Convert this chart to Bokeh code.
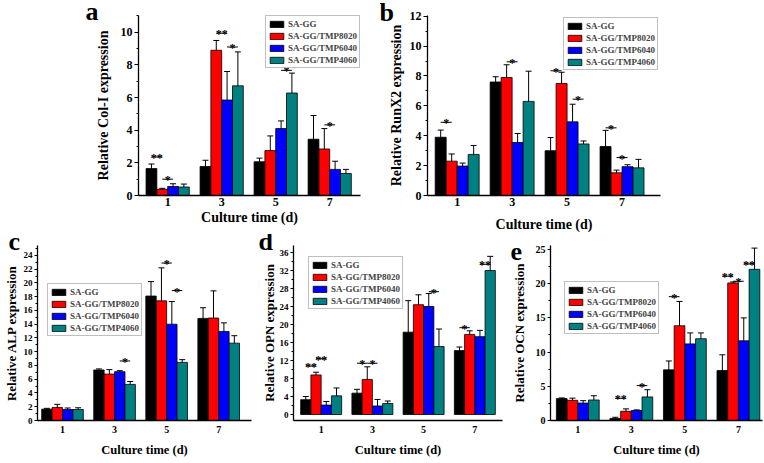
import numpy as np
from bokeh.plotting import figure
from bokeh.models import (ColumnDataSource, Whisker, TeeHead, Legend, LegendItem,
                          FixedTicker, SingleIntervalTicker, Range1d)
from bokeh.layouts import column, row
from bokeh.embed import file_html
from bokeh.resources import INLINE
from bokeh.core.properties import value

FONT = "Liberation Serif"

days = ["1", "3", "5", "7"]
groups = ["SA-GG", "SA-GG/TMP8020", "SA-GG/TMP6040", "SA-GG/TMP4060"]
colors = ["#000000", "#ff0000", "#0000ff", "#008080"]

# (a) Col-I
col1_sagg = [1.65, 1.78, 2.07, 3.45]
col1_8020 = [0.38, 8.90, 2.75, 2.85]
col1_6040 = [0.55, 5.85, 4.10, 1.60]
col1_4060 = [0.52, 6.72, 6.28, 1.35]
col1_sagg_err = [0.28, 0.38, 0.22, 1.45]
col1_8020_err = [0.06, 0.60, 0.90, 1.25]
col1_6040_err = [0.17, 1.75, 0.47, 0.50]
col1_4060_err = [0.18, 2.08, 1.22, 0.25]
# significance: (day index, series i, series j, y, label)
col1_sig = [(0, 0, 1, 2.37, "**"), (0, 1, 2, 1.0, "*"), (1, 1, 2, 9.95, "**"),
            (1, 2, 3, 9.1, "*"), (2, 2, 3, 7.67, "*"), (3, 1, 2, 4.33, "*")]

# (b) RunX2
runx2_sagg = [3.90, 7.60, 3.00, 3.28]
runx2_8020 = [2.30, 7.90, 7.50, 1.52]
runx2_6040 = [1.97, 3.55, 4.93, 1.93]
runx2_4060 = [2.75, 6.30, 3.45, 1.85]
runx2_sagg_err = [0.48, 0.35, 0.88, 1.08]
runx2_8020_err = [0.48, 0.85, 0.75, 0.18]
runx2_6040_err = [0.20, 0.60, 1.18, 0.13]
runx2_4060_err = [0.60, 2.02, 0.20, 0.57]
runx2_sig = [(0, 0, 1, 4.9, "*"), (1, 1, 2, 8.95, "*"), (2, 0, 1, 8.35, "*"),
             (2, 2, 3, 6.45, "*"), (3, 0, 1, 4.53, "*"), (3, 1, 2, 2.54, "*")]

# (c) ALP
alp_sagg = [1.65, 7.35, 18.10, 14.85]
alp_8020 = [1.90, 6.75, 17.40, 14.90]
alp_6040 = [1.60, 7.10, 14.00, 12.95]
alp_4060 = [1.60, 5.25, 8.45, 11.25]
alp_sagg_err = [0.12, 0.15, 2.10, 1.55]
alp_8020_err = [0.45, 0.65, 4.80, 3.95]
alp_6040_err = [0.22, 0.15, 3.30, 1.25]
alp_4060_err = [0.25, 0.42, 0.40, 1.08]
alp_sig = [(1, 2, 3, 8.66, "*"), (2, 1, 2, 22.9, "*"), (2, 2, 3, 18.9, "*")]

# (d) OPN
opn_sagg = [3.30, 4.75, 18.30, 14.20]
opn_8020 = [8.80, 7.80, 24.40, 17.80]
opn_6040 = [2.10, 1.90, 24.00, 17.30]
opn_4060 = [4.15, 2.45, 15.10, 32.00]
opn_sagg_err = [0.70, 0.85, 7.00, 0.80]
opn_8020_err = [0.60, 2.80, 2.20, 0.80]
opn_6040_err = [0.80, 1.45, 2.90, 1.40]
opn_4060_err = [1.75, 0.55, 3.90, 3.15]
opn_sig = [(0, 0, 1, 10.8, "**"), (0, 1, 2, 12.4, "**"), (1, 0, 1, 11.4, "*"),
           (1, 1, 2, 11.4, "*"), (2, 2, 3, 27.3, "*"), (3, 0, 1, 19.3, "*"),
           (3, 2, 3, 33.4, "**")]

# (e) OCN
ocn_sagg = [3.20, 0.30, 7.40, 7.30]
ocn_8020 = [2.95, 1.35, 13.85, 20.10]
ocn_6040 = [2.55, 1.45, 11.20, 11.65]
ocn_4060 = [3.00, 3.45, 11.95, 22.10]
ocn_sagg_err = [0.10, 0.17, 1.30, 2.30]
ocn_8020_err = [0.32, 0.35, 3.55, 0.15]
ocn_6040_err = [0.35, 0.10, 1.60, 3.35]
ocn_4060_err = [0.62, 1.05, 0.85, 3.10]
ocn_sig = [(1, 0, 1, 3.25, "**"), (1, 2, 3, 5.1, "*"), (2, 0, 1, 18.1, "*"),
           (3, 0, 1, 21.1, "**"), (3, 1, 2, 20.35, "*"), (3, 2, 3, 22.9, "**")]

OFFS = [-0.3, -0.1, 0.1, 0.3]
BAR_W = 0.2


def panel(letter, ylabel, means, errs, sigs, *, width, height, mbl, mbr, mbt, mbb,
          xr, yr, ystep, yminor, legend_loc, legend_margin, letter_offset, letter_standoff,
          tick_fs, xtick_fs, label_fs, xlabel_fs, tick_out, ylab_standoff,
          xtick_standoff, xlab_standoff):
    p = figure(width=width, height=height, x_range=Range1d(*xr), y_range=Range1d(*yr),
               output_backend="svg", toolbar_location=None,
               min_border_left=mbl, min_border_right=mbr,
               min_border_top=mbt, min_border_bottom=mbb)
    p.outline_line_color = None
    p.background_fill_color = "white"
    p.border_fill_color = "white"
    p.xgrid.visible = False
    p.ygrid.visible = False

    # panel letter as the (left-aligned, shifted) title
    p.title.text = letter
    p.title.align = "left"
    p.title.vertical_align = "bottom"
    p.title.offset = letter_offset
    p.title.standoff = letter_standoff
    p.title.text_font = FONT
    p.title.text_font_style = "bold"
    p.title.text_font_size = "26px"
    p.title.text_color = "black"

    idx = np.arange(len(days))
    rends = []
    for k, c in enumerate(colors):
        m = np.array(means[k], dtype=float)
        e = np.array(errs[k], dtype=float)
        src = ColumnDataSource(dict(x=idx + OFFS[k], top=m, upper=m + e, lower=m - e))
        r = p.vbar(x="x", top="top", width=BAR_W, source=src, fill_color=c,
                   line_color="black", line_width=0.8)
        rends.append(r)
        w = Whisker(source=src, base="x", upper="upper", lower="lower",
                    line_color="black", line_width=1,
                    upper_head=TeeHead(size=6, line_color="black", line_width=1),
                    lower_head=TeeHead(size=6, line_color="black", line_width=1))
        p.add_layout(w)

    x0 = [d + OFFS[i] for d, i, j, y, t in sigs]
    x1 = [d + OFFS[j] for d, i, j, y, t in sigs]
    ys = [y for d, i, j, y, t in sigs]
    txt = [t for d, i, j, y, t in sigs]
    xm = [(a + b) / 2 for a, b in zip(x0, x1)]
    p.segment(x0=x0, y0=ys, x1=x1, y1=ys, line_color="black", line_width=1)
    p.text(x=xm, y=ys, text=txt, text_align="center", text_baseline="alphabetic",
           text_font=value(FONT), text_font_style="bold", text_font_size="12px",
           y_offset=1, text_color="black")

    xa = p.xaxis[0]
    ya = p.yaxis[0]
    xa.ticker = FixedTicker(ticks=list(range(len(days))))
    xa.major_label_overrides = {i: d for i, d in enumerate(days)}
    xa.major_tick_out = 0
    xa.major_tick_in = 0
    xa.minor_tick_out = 0
    xa.major_label_standoff = xtick_standoff
    ya.ticker = SingleIntervalTicker(interval=ystep, num_minor_ticks=yminor)
    ya.major_tick_out = tick_out
    ya.major_tick_in = 0
    ya.minor_tick_out = 2
    ya.minor_tick_in = 0
    ya.major_label_standoff = 2
    for ax in (xa, ya):
        ax.axis_line_color = "black"
        ax.axis_line_width = 1.3
        ax.major_tick_line_color = "black"
        ax.minor_tick_line_color = "black"
        ax.major_label_text_font = FONT
        ax.major_label_text_font_style = "bold"
        ax.major_label_text_color = "black"
        ax.axis_label_text_font = FONT
        ax.axis_label_text_font_style = "bold"
        ax.axis_label_text_color = "black"
    ya.major_label_text_font_size = tick_fs
    xa.major_label_text_font_size = xtick_fs
    ya.axis_label = ylabel
    xa.axis_label = "Culture time (d)"
    ya.axis_label_text_font_size = label_fs
    xa.axis_label_text_font_size = xlabel_fs
    ya.axis_label_standoff = ylab_standoff
    xa.axis_label_standoff = xlab_standoff

    leg = Legend(items=[LegendItem(label=value(g), renderers=[r]) for g, r in zip(groups, rends)],
                 location=legend_loc, margin=legend_margin)
    leg.label_text_font = FONT
    leg.label_text_font_style = "bold"
    leg.label_text_font_size = "9px"
    leg.glyph_width = 17
    leg.glyph_height = 8
    leg.label_height = 11
    leg.label_standoff = 3
    leg.spacing = 1
    leg.padding = 2
    leg.border_line_color = "#808080"
    leg.border_line_width = 1
    leg.background_fill_color = "white"
    leg.background_fill_alpha = 1
    p.add_layout(leg)
    return p


TOP = dict(tick_fs="12px", xtick_fs="12px", label_fs="14px", xlabel_fs="14px", tick_out=4,
           mbt=15, mbb=39, xtick_standoff=2)
BOT = dict(xtick_fs="10px", label_fs="13px", xlabel_fs="12.5px", tick_out=3,
           mbt=11, mbb=43, xtick_standoff=5, xlab_standoff=7)

pa = panel("a", "Relative Col-I expression",
           [col1_sagg, col1_8020, col1_6040, col1_4060],
           [col1_sagg_err, col1_8020_err, col1_6040_err, col1_4060_err], col1_sig,
           width=380, height=234, mbl=138, mbr=20,
           xr=(-0.54, 3.57), yr=(0, 11.03), ystep=2, yminor=2,
           legend_loc="top_right", legend_margin=0, letter_offset=-53, letter_standoff=-21,
           ylab_standoff=7, xlab_standoff=1, **TOP)

pb = panel("b", "Relative RunX2 expression",
           [runx2_sagg, runx2_8020, runx2_6040, runx2_4060],
           [runx2_sagg_err, runx2_8020_err, runx2_6040_err, runx2_4060_err], runx2_sig,
           width=384, height=234, mbl=47, mbr=104,
           xr=(-0.54, 3.70), yr=(0, 12.05), ystep=2, yminor=2,
           legend_loc="top_right", legend_margin=2, letter_offset=-48, letter_standoff=-23,
           ylab_standoff=3, xlab_standoff=8, **TOP)

pc = panel("c", "Relative ALP expression",
           [alp_sagg, alp_8020, alp_6040, alp_4060],
           [alp_sagg_err, alp_8020_err, alp_6040_err, alp_4060_err], alp_sig,
           width=258, height=229, mbl=37, mbr=7,
           xr=(-0.48, 3.63), yr=(0, 25.45), ystep=2, yminor=2,
           legend_loc=(10, 84), legend_margin=0, letter_offset=-29, letter_standoff=-21,
           tick_fs="9px", ylab_standoff=2, **BOT)

pd_ = panel("d", "Relative OPN expression",
            [opn_sagg, opn_8020, opn_6040, opn_4060],
            [opn_sagg_err, opn_8020_err, opn_6040_err, opn_4060_err], opn_sig,
            width=250, height=229, mbl=32, mbr=6,
            xr=(-0.54, 3.54), yr=(-1.33, 37.56), ystep=4, yminor=2,
            legend_loc=(15, 111), legend_margin=0, letter_offset=-35, letter_standoff=-21,
            tick_fs="9px", ylab_standoff=0, **BOT)

pe = panel("e", "Relative OCN expression",
           [ocn_sagg, ocn_8020, ocn_6040, ocn_4060],
           [ocn_sagg_err, ocn_8020_err, ocn_6040_err, ocn_4060_err], ocn_sig,
           width=256, height=229, mbl=36, mbr=2,
           xr=(-0.51, 3.45), yr=(0, 25.58), ystep=5, yminor=2,
           legend_loc=(14, 86), legend_margin=0, letter_offset=-40, letter_standoff=-29,
           tick_fs="10px", ylab_standoff=6, **BOT)

layout = column(row(pa, pb), row(pc, pd_, pe))
open("out.html", "w").write(file_html(layout, INLINE))
